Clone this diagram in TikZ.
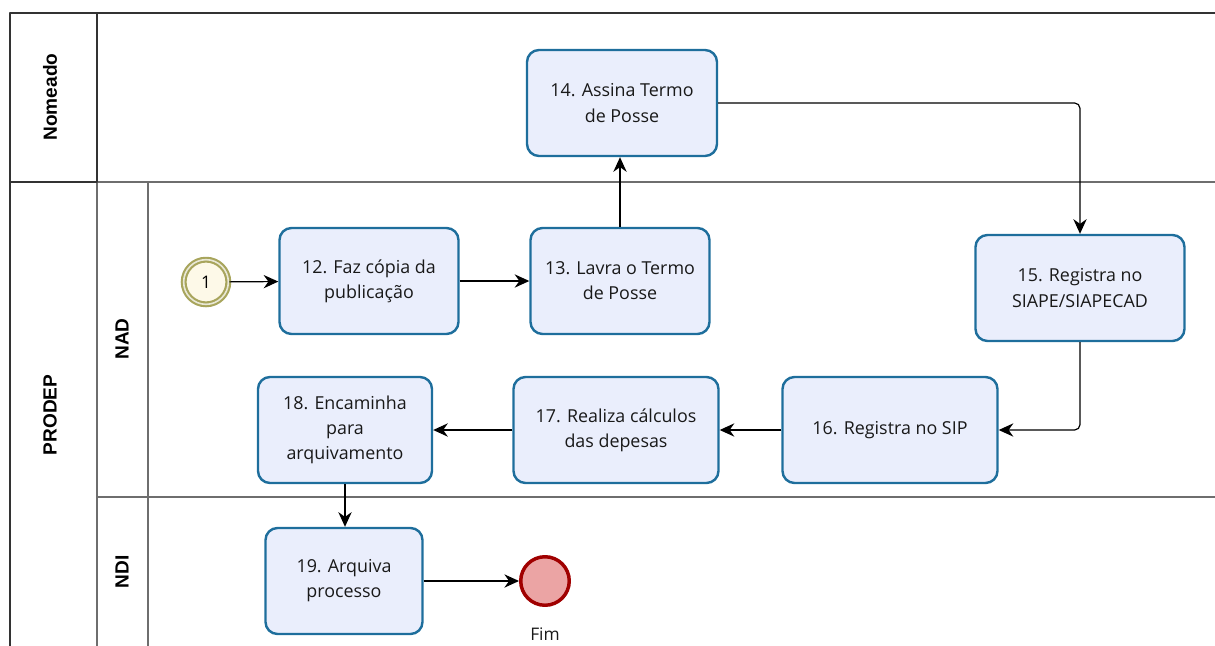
\documentclass[tikz,border=0pt]{standalone}
\usepackage{fontspec}
\setmainfont{Open Sans}
\newfontfamily\lanefont{Liberation Sans}
\usetikzlibrary{arrows.meta}

\definecolor{taskfill}{HTML}{EAEEFC}
\definecolor{taskline}{HTML}{1E6E9C}
\definecolor{startline}{HTML}{A8A55C}
\definecolor{startfill}{HTML}{FDF9E8}
\definecolor{endline}{HTML}{A00000}
\definecolor{endfill}{HTML}{EBA4A4}
\definecolor{poolline}{HTML}{333333}
\definecolor{laneline}{HTML}{6E6E6E}

\tikzset{
  task/.style={draw=taskline, fill=taskfill, line width=1.8pt, rounded corners=9pt,
    minimum height=79.5pt, align=center, text=black!90,
    font=\fontsize{13.4pt}{18.8pt}\selectfont},
  startev/.style={circle, draw=startline, double=white!75!startline, double distance=1.2pt,
    line width=1.6pt, fill=startfill, minimum size=33.5pt, inner sep=0pt,
    font=\fontsize{13pt}{15pt}\selectfont},
  endev/.style={circle, draw=endline, fill=endfill, line width=2.6pt,
    minimum size=36.4pt, inner sep=0pt},
  flow/.style={-{Stealth[length=11pt,width=10pt]}, line width=0.9pt},
  lanelabel/.style={rotate=90, font=\lanefont\bfseries\fontsize{14.3pt}{16pt}\selectfont},
}

\begin{document}
\begin{tikzpicture}[x=0.75pt, y=-0.75pt, line join=round]
	\useasboundingbox (0,0) rectangle (1215,646);
	
	% pool and lanes
	\draw[laneline, line width=1pt] (97,182) -- (1215,182);
	\draw[laneline, line width=1pt] (97,182) -- (97,646);
	\draw[laneline, line width=1pt] (148,182) -- (148,646);
	\draw[laneline, line width=1pt] (97,497) -- (1215,497);
	\draw[poolline, line width=1.5pt] (1215,13) -- (10,13) -- (10,646);
	\draw[poolline, line width=1.5pt] (97,13) -- (97,182) -- (10,182);
	
	\node[lanelabel] (lnom) at (50,97) {Nomeado};
	\node[lanelabel] (lpro) at (50,415) {PRODEP};
	\node[lanelabel] (lnad) at (122,339) {NAD};
	\node[lanelabel] (lndi) at (122,572) {NDI};
	
	% events and tasks
	\node[startev] (s1) at (206,282) {1};
	\node[task, minimum width=134.25pt] (t12) at (369,281) {12. Faz cópia da\\publicação};
	\node[task, minimum width=134.25pt] (t13) at (620,281) {13. Lavra o Termo\\de Posse};
	\node[task, minimum width=142.5pt] (t14) at (622,103) {14. Assina Termo\\de Posse};
	\node[task, minimum width=156.75pt] (t15) at (1080,288) {15. Registra no\\SIAPE/SIAPECAD};
	\node[task, minimum width=161.25pt] (t16) at (890,430) {16. Registra no SIP};
	\node[task, minimum width=153.75pt] (t17) at (616,430) {17. Realiza cálculos\\das depesas};
	\node[task, minimum width=130.5pt] (t18) at (345,430) {18. Encaminha\\para\\arquivamento};
	\node[task, minimum width=117.75pt] (t19) at (344,581) {19. Arquiva\\processo};
	\node[endev] (e1) at (545,581) {};
	\node[anchor=north, inner sep=0pt, text=black!90, font=\fontsize{13pt}{15pt}\selectfont] (fim) at (545,628) {Fim};
	
	% sequence flows
	\draw[flow] (s1) -- (t12);
	\draw[flow] (t12) -- (t13);
	\draw[flow] (t13.north) -- (t13.north |- t14.south);
	\draw[flow, rounded corners=4pt] (t14.east) -| (t15.north);
	\draw[flow, rounded corners=4pt] (t15.south) |- (t16.east);
	\draw[flow] (t16) -- (t17);
	\draw[flow] (t17) -- (t18);
	\draw[flow] (t18.south) -- (t18.south |- t19.north);
	\draw[flow] (t19) -- (e1);
\end{tikzpicture}
\end{document}
